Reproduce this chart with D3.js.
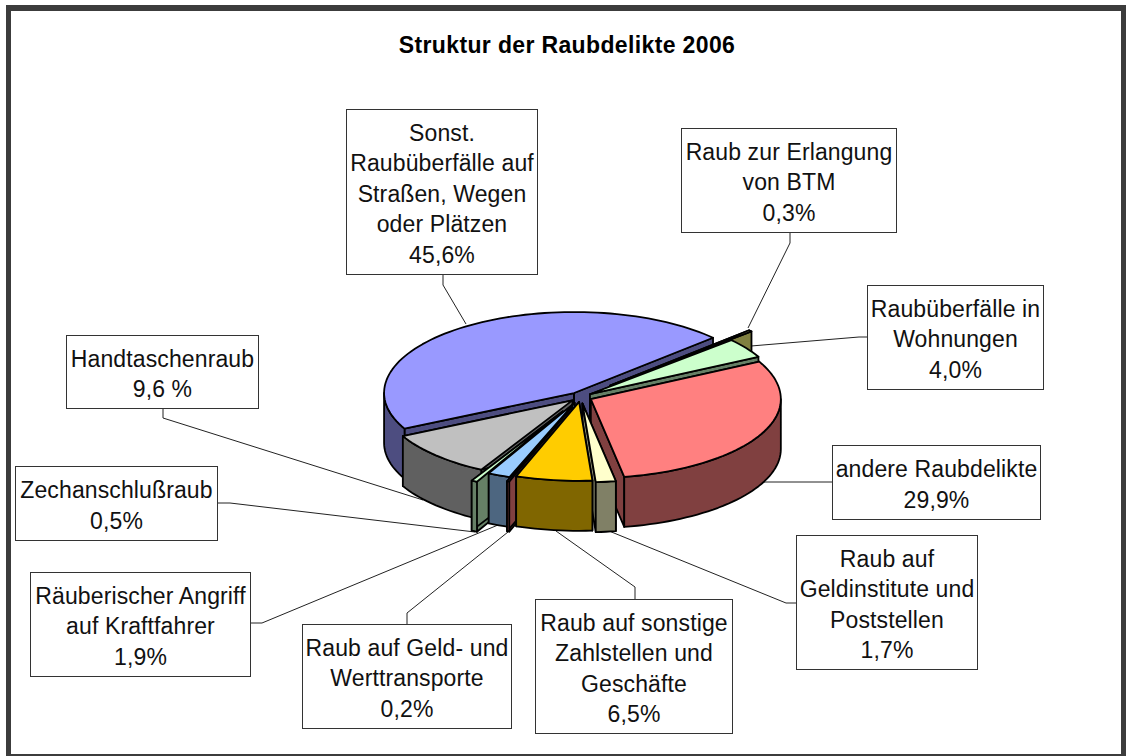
<!DOCTYPE html>
<html><head><meta charset="utf-8">
<script src="https://cdn.jsdelivr.net/npm/d3@7"></script>
<style>html,body{margin:0;padding:0;background:#fff}svg{display:block}</style>
</head><body><svg id="c" width="1126" height="756"></svg>
<script>
const titleText = "Struktur der Raubdelikte 2006";
// clockwise from the first slice at upper right
const categories = ["Raub zur Erlangung von BTM","Raubüberfälle in Wohnungen","andere Raubdelikte","Raub auf Geldinstitute und Poststellen","Raub auf sonstige Zahlstellen und Geschäfte","Raub auf Geld- und Werttransporte","Räuberischer Angriff auf Kraftfahrer","Zechanschlußraub","Handtaschenraub","Sonst. Raubüberfälle auf Straßen, Wegen oder Plätzen"];
const values = [0.3,4.0,29.9,1.7,6.5,0.2,1.9,0.5,9.6,45.6];
const labelLines = [
 ["Raub zur Erlangung","von BTM","0,3%"],
 ["Raubüberfälle in","Wohnungen","4,0%"],
 ["andere Raubdelikte","29,9%"],
 ["Raub auf","Geldinstitute und","Poststellen","1,7%"],
 ["Raub auf sonstige","Zahlstellen und","Geschäfte","6,5%"],
 ["Raub auf Geld- und","Werttransporte","0,2%"],
 ["Räuberischer Angriff","auf Kraftfahrer","1,9%"],
 ["Zechanschlußraub","0,5%"],
 ["Handtaschenraub","9,6 %"],
 ["Sonst.","Raubüberfälle auf","Straßen, Wegen","oder Plätzen","45,6%"]
];
const topColors  = ["#FFFF99","#CCFFCC","#FF8080","#FFFFCC","#FFCC00","#FF8080","#99CCFF","#CCFFCC","#C0C0C0","#9999FF"];
const wallColors = ["#808040","#668066","#804040","#808066","#806600","#804040","#4D6680","#668066","#606060","#4D4D80"];
const explode = [40,11.4,11.4,15,11.4,25,15,38,11.4,11.4];
const drawOrder = [9,0,1,2,8,7,6,5,3,4];
// label boxes [x0,y0,x1,y1]
const labelBoxes = [
 [681.5,128.5,896.5,232.5],[867.5,285.5,1043.5,389.5],[832.5,445.5,1040.5,519.5],
 [796.5,535.5,977.5,669.5],[535.5,599.5,732.5,733.5],[302.5,624.5,511.5,728.5],
 [30.5,572.5,250.5,676.5],[15.5,466.5,217.5,540.5],[66.5,335.5,258.5,408.5],[346.5,109.5,537.5,274.5]
];
const leaders = [
 [[790,232],[790,243],[748,328]],
 [[867,337],[859,337],[751,346]],
 [[832,482],[764,482]],
 [[796,603],[786,603],[609,531]],
 [[635,599],[635,587],[556,531]],
 [[407,625],[407,613],[508,532]],
 [[250,623],[262,623],[498,525]],
 [[217,503],[230,503],[475,532]],
 [[163,409],[163,418],[423,500]],
 [[443,274],[443,285],[466,324]]
];

const svg = d3.select("#c");
const W = 1126, H = 756;
const cx = 580.6, cy = 397, R = 190, RyBack = 81, RyFront = 79, depth = 50;
const startDeg = 47;
const rad = Math.PI/180;
const squash = RyBack/R;

// frame
svg.append("path").attr("fill-rule","evenodd").attr("fill","#3c3c3c")
  .attr("d",`M6,5H${W}V${H}H6Z M11,11V754H1121V11Z`);

// title
const FS = 23, LH = 30.5;
svg.append("text").attr("x",567).attr("y",53).attr("text-anchor","middle")
  .attr("font-family","'Liberation Sans',Arial,sans-serif").attr("font-weight","bold")
  .attr("letter-spacing",0.36).attr("font-size",FS).text(titleText);

// leaders below pie
const lineGen = d3.line();
svg.append("g").selectAll("path").data(leaders).join("path")
  .attr("d",d=>lineGen(d)).attr("fill","none").attr("stroke","#222").attr("stroke-width",1);

// pie
const pie = d3.pie().sort(null).value(d=>d).startAngle(startDeg*rad).endAngle(startDeg*rad+2*Math.PI);
const arcs = pie(values);
const xs = d3.scaleLinear().domain([-1,1]).range([-R,R]);
const ys = d3.scaleLinear().domain([-1,0,1]).range([-RyFront,0,RyBack]);
const g = svg.append("g").attr("stroke","#000").attr("stroke-width",1.8).attr("stroke-linejoin","round");
drawOrder.forEach(i=>{
  const a = arcs[i], m=(a.startAngle+a.endAngle)/2;
  const ax = cx + explode[i]*Math.sin(m), ay = cy - explode[i]*squash*Math.cos(m);
  const P = t=>[ax+xs(Math.sin(t)), ay-ys(Math.cos(t))];
  const arcPts=(s,e)=>{const n=Math.max(2,Math.ceil((e-s)/(2*rad)));return d3.range(n+1).map(k=>P(s+(e-s)*k/n));};
  const down = p=>[p[0],p[1]+depth];
  const wall = wallColors[i];
  // radial walls
  [a.startAngle,a.endAngle].forEach(t=>{
    const e=P(t);
    g.append("path").attr("fill",wall).attr("d",lineGen([[ax,ay],e,down(e),[ax,ay+depth]])+"Z");
  });
  // outer wall (front-facing part only)
  [[Math.PI/2,3*Math.PI/2],[2.5*Math.PI,3.5*Math.PI]].forEach(([lo,hi])=>{
    const s=Math.max(a.startAngle,lo), e=Math.min(a.endAngle,hi);
    if(e>s){
      const pts=arcPts(s,e);
      g.append("path").attr("fill",wall).attr("d",lineGen(pts.concat(pts.map(down).reverse()))+"Z");
    }
  });
  // top
  g.append("path").attr("fill",topColors[i]).attr("d",lineGen([[ax,ay]].concat(arcPts(a.startAngle,a.endAngle)))+"Z");
});

// label boxes
labelBoxes.forEach((b,i)=>{
  const [x0,y0,x1,y1]=b;
  svg.append("rect").attr("x",x0).attr("y",y0).attr("width",x1-x0).attr("height",y1-y0)
    .attr("fill","#fff").attr("stroke","#333").attr("stroke-width",1);
  const n=labelLines[i].length, base=y0+(y1-y0-n*LH)/2+25;
  labelLines[i].forEach((t,k)=>{
    svg.append("text").attr("x",(x0+x1)/2).attr("y",base+k*LH).attr("text-anchor","middle")
      .attr("font-family","'Liberation Sans',Arial,sans-serif").attr("font-size",FS).attr("letter-spacing",0.12)
      .attr("fill","#111").text(t);
  });
});
</script></body></html>
